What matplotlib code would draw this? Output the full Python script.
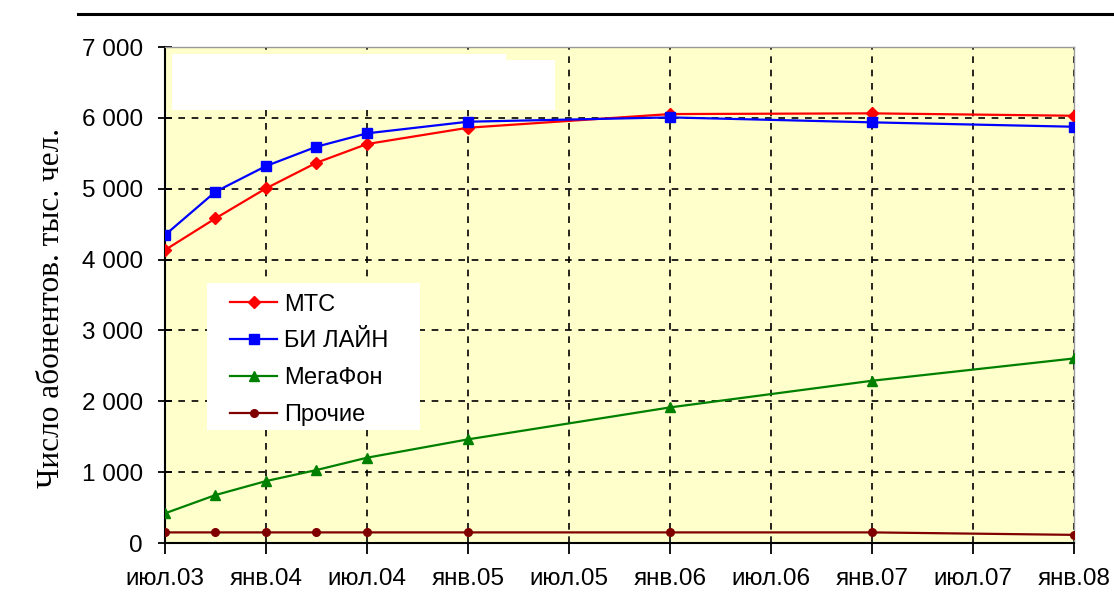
import matplotlib
matplotlib.use("Agg")
import matplotlib.pyplot as plt
from matplotlib.lines import Line2D
from matplotlib.patches import Rectangle
from matplotlib.ticker import FuncFormatter

# Months counted from July 2003
months = [0, 3, 6, 9, 12, 18, 30, 42, 54]
tick_months = [0, 6, 12, 18, 24, 30, 36, 42, 48, 54]
tick_labels = ['июл.03', 'янв.04', 'июл.04', 'янв.05', 'июл.05',
               'янв.06', 'июл.06', 'янв.07', 'июл.07', 'янв.08']

# Subscribers, thousands
mts = [4135, 4582, 5005, 5367, 5631, 5861, 6054, 6064, 6030]
beeline = [4347, 4958, 5320, 5593, 5782, 5946, 6007, 5937, 5875]
megafon = [419, 677, 874, 1030, 1204, 1463, 1914, 2290, 2605]
others = [150, 150, 150, 150, 150, 150, 150, 150, 115]

series_names = ['МТС', 'БИ ЛАЙН', 'МегаФон', 'Прочие']

fig = plt.figure(figsize=(11.14, 6.10), dpi=100)
ax = fig.add_axes([0.1481, 0.1098, 0.8160, 0.8131])
ax.set_facecolor('#FFFFCC')

ax.plot(months, mts, color='#FF0000', lw=1.6, marker='D', ms=6, label=series_names[0], zorder=5)
ax.plot(months, beeline, color='#0000FF', lw=1.6, marker='s', ms=6.5, label=series_names[1], zorder=5)
ax.plot(months, megafon, color='#008000', lw=1.6, marker='^', ms=7, label=series_names[2], zorder=5)
ax.plot(months, others, color='#800000', lw=1.6, marker='o', ms=5.5, label=series_names[3], zorder=5)

ax.set_xlim(0, 54)
ax.set_ylim(0, 7000)
ax.set_xticks(tick_months)
ax.set_xticklabels(tick_labels)
ax.set_yticks(range(0, 7001, 1000))
ax.yaxis.set_major_formatter(FuncFormatter(lambda v, p: f"{int(v):,}".replace(',', ' ')))

ax.grid(True, color='black', linestyle=(0, (4, 4)), linewidth=1.2, zorder=1)
ax.set_axisbelow(True)

for side in ('top', 'right'):
    ax.spines[side].set_color('#999999')
    ax.spines[side].set_linewidth(1.0)
for side in ('left', 'bottom'):
    ax.spines[side].set_color('black')
    ax.spines[side].set_linewidth(1.5)

ax.tick_params(axis='y', direction='inout', length=10, width=1.3, pad=11,
               labelsize=17.5, labelfontfamily='Liberation Sans', colors='black')
ax.tick_params(axis='x', direction='out', length=8, width=1.3, pad=10,
               labelsize=17.5, labelfontfamily='Liberation Sans', colors='black')

ax.set_ylabel('Число абонентов. тыс. чел.', fontfamily='Liberation Serif',
              fontsize=22.5)
ax.yaxis.set_label_coords(-0.109, 0.474)

# White block in the upper-left part of the plot area
ax.add_patch(Rectangle((0.0077, 0.873), 0.421, 0.101, transform=ax.transAxes,
                       facecolor='white', edgecolor='none', zorder=2))
ax.add_patch(Rectangle((0.0077, 0.97), 0.367, 0.016, transform=ax.transAxes,
                       facecolor='white', edgecolor='none', zorder=2))

# Legend panel
ax.add_patch(Rectangle((0.0462, 0.228), 0.2343, 0.296, transform=ax.transAxes,
                       facecolor='white', edgecolor='none', zorder=6))
leg = ax.legend(loc='upper left', bbox_to_anchor=(0.0715, 0.503), frameon=False,
                prop={'family': 'Liberation Sans', 'size': 17},
                handlelength=2.0, labelspacing=0.63, borderpad=0, borderaxespad=0,
                handletextpad=0.3)
leg.set_zorder(7)

# Rule across the top of the figure
fig.add_artist(Line2D([78 / 1114, 1.0], [1 - 14 / 610, 1 - 14 / 610],
                      transform=fig.transFigure, color='black', lw=2.2))

fig.savefig('out.png', dpi=100, facecolor='white')
